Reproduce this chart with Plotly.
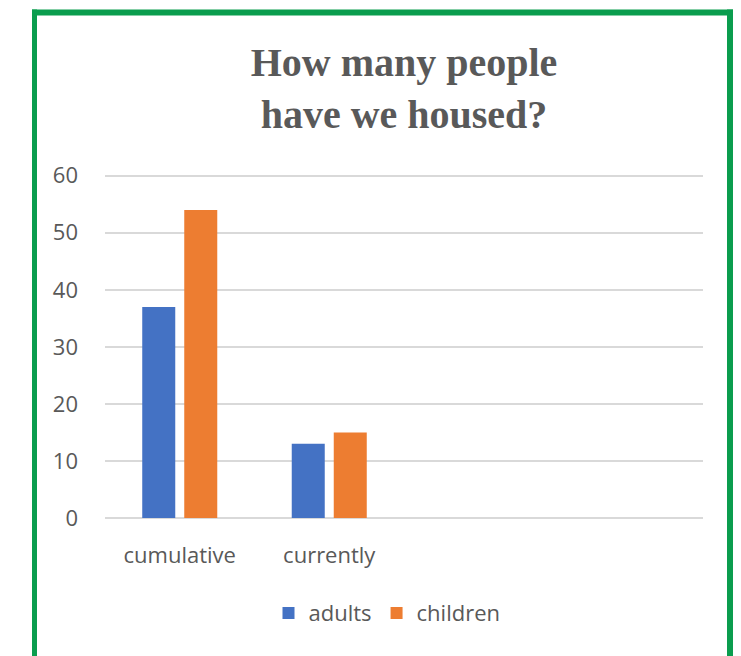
import plotly.graph_objects as go

categories = ["cumulative", "currently"]
adults = [37, 13]
children = [54, 15]
y_ticks = [0, 10, 20, 30, 40, 50, 60]

OFF = 8  # page body margin
W, H = 741 - OFF, 656 - OFF
# plot area in page pixels
X0, X1 = 105, 703
Y_TOP, Y_BOT = 174.3, 518
L, R = X0 - OFF, W - (X1 - OFF)
T, B = Y_TOP - OFF, H - (Y_BOT - OFF)
pw, ph = X1 - X0, Y_BOT - Y_TOP

def px(x):  # page x -> paper
    return (x - X0) / pw

def py(y):  # page y -> paper
    return (Y_BOT - y) / ph

fig = go.Figure()
fig.add_bar(name="adults", x=categories, y=adults, marker_color="#4472C4",
            marker_line_width=0)
fig.add_bar(name="children", x=categories, y=children, marker_color="#ED7D31",
            marker_line_width=0)

green = "#0A9D4E"
fig.add_shape(type="line", xref="paper", yref="paper",
              x0=px(34.5), x1=px(34.5), y0=py(10), y1=py(H + 40),
              line=dict(color=green, width=5))
fig.add_shape(type="line", xref="paper", yref="paper",
              x0=px(32), x1=px(733), y0=py(13), y1=py(13),
              line=dict(color=green, width=6))
fig.add_shape(type="line", xref="paper", yref="paper",
              x0=px(730), x1=px(730), y0=py(10), y1=py(H + 40),
              line=dict(color=green, width=6))

fig.update_layout(
    width=W, height=H,
    margin=dict(l=L, r=R, t=T, b=B, autoexpand=False),
    paper_bgcolor="white", plot_bgcolor="white",
    barmode="group", bargap=0.438, bargroupgap=0.214,
    title=dict(text="<b>How many people<br>have we housed?</b>",
               x=0.5, xref="paper", xanchor="center",
               y=1 - (76 - OFF) / H, yanchor="middle",
               font=dict(family="Liberation Serif", size=40, color="#595959")),
    font=dict(family="Open Sans", color="#595959", size=22),
    legend=dict(orientation="h", x=px(387), xanchor="center", y=py(613), yanchor="middle",
                font=dict(size=22, color="#595959"), itemwidth=30,
                traceorder="normal"),
    xaxis=dict(range=[-0.5, 3.5], showgrid=False, showline=False, ticks="",
               tickfont=dict(size=22, color="#595959"), ticklabelstandoff=22),
    yaxis=dict(range=[0, 60.3], tickvals=y_ticks, showgrid=True, gridcolor="#D9D9D9",
               gridwidth=1.5, zeroline=True, zerolinecolor="#D9D9D9", zerolinewidth=1.5,
               showline=False, ticks="", ticklabelstandoff=26,
               tickfont=dict(size=22, color="#595959")),
)
fig.write_html("out.html")
